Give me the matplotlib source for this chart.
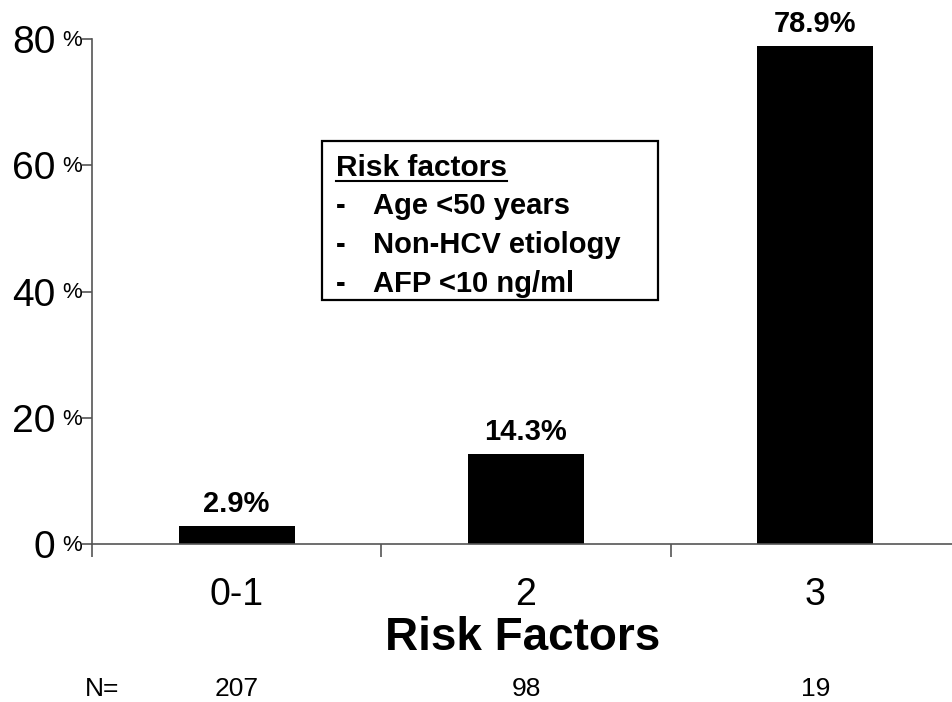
import matplotlib
matplotlib.use("Agg")
import matplotlib.pyplot as plt
from matplotlib.lines import Line2D
from matplotlib.patches import Rectangle
from matplotlib.transforms import blended_transform_factory

plt.rcParams["font.family"] = ["Liberation Sans", "DejaVu Sans"]

categories = ["0-1", "2", "3"]
percent = [2.9, 14.3, 78.9]
value_labels = ["2.9%", "14.3%", "78.9%"]
n_patients = [207, 98, 19]
yticks = [0, 20, 40, 60, 80]
risk_items = ["Age <50 years", "Non-HCV etiology", "AFP <10 ng/ml"]

W, H = 952, 702
fig = plt.figure(figsize=(W / 100, H / 100), dpi=100)
ax = fig.add_axes([92 / W, (H - 544) / H, 868 / W, (544 - 39) / H])

x = list(range(len(categories)))
ax.bar(x, percent, width=0.4, color="black")
ax.set_xlim(-0.5, len(categories) - 0.5)
ax.set_ylim(0, 80)

for xi, lab, v in zip(x, value_labels, percent):
    ax.annotate(lab, (xi, v), xytext=(0, 10), textcoords="offset points",
                ha="center", va="baseline", fontsize=21, fontweight="bold")

for s in ("top", "right"):
    ax.spines[s].set_visible(False)
for s in ("left", "bottom"):
    ax.spines[s].set_color("#555555")
    ax.spines[s].set_linewidth(1.2)

# category labels (no tick marks), boundary ticks as minor ticks
ax.set_xticks(x)
ax.set_xticklabels(categories, fontsize=27)
ax.tick_params(axis="x", which="major", length=0, pad=24)
ax.set_xticks([-0.5, 0.5, 1.5, 2.5], minor=True)
ax.tick_params(axis="x", which="minor", length=9, width=1.2, color="#555555", direction="out")

ax.set_yticks(yticks)
ax.set_yticklabels([str(t) for t in yticks], fontsize=28)
ax.tick_params(axis="y", length=7.5, width=1.2, color="#555555", pad=19, direction="out")
for t in yticks:
    ax.annotate("%", (0, t), xycoords=("axes fraction", "data"),
                xytext=(-7, -1), textcoords="offset points",
                ha="right", va="center", fontsize=16)

# risk factors box
box = Rectangle((0.265, 0.483), 0.387, 0.316, transform=ax.transAxes,
                fill=False, edgecolor="black", linewidth=1.6)
ax.add_patch(box)
title = fig.text(336 / W, 1 - 176 / H, "Risk factors", fontsize=21.5,
                 fontweight="bold", va="baseline", ha="left")
for i, item in enumerate(risk_items):
    yb = 1 - (214 + 39 * i) / H
    fig.text(336 / W, yb, "-", fontsize=21, fontweight="bold", va="baseline")
    fig.text(373 / W, yb, item, fontsize=21, fontweight="bold", va="baseline")

fig.text(523 / W, 1 - 650 / H, "Risk Factors", fontsize=33, fontweight="bold",
         ha="center", va="baseline")

trans = blended_transform_factory(ax.transData, fig.transFigure)
fig.text(85 / W, 6 / H, "N=", fontsize=19, va="baseline", ha="left")
for xi, n in zip(x, n_patients):
    ax.text(xi, 6 / H, str(n), transform=trans, fontsize=19,
            ha="center", va="baseline")

fig.canvas.draw()
bb = title.get_window_extent()
fig.add_artist(Line2D([bb.x0 / W, bb.x1 / W], [(H - 181) / H] * 2,
                      transform=fig.transFigure, color="black", linewidth=1.5))

fig.savefig("out.png", dpi=100)
plt.close(fig)
